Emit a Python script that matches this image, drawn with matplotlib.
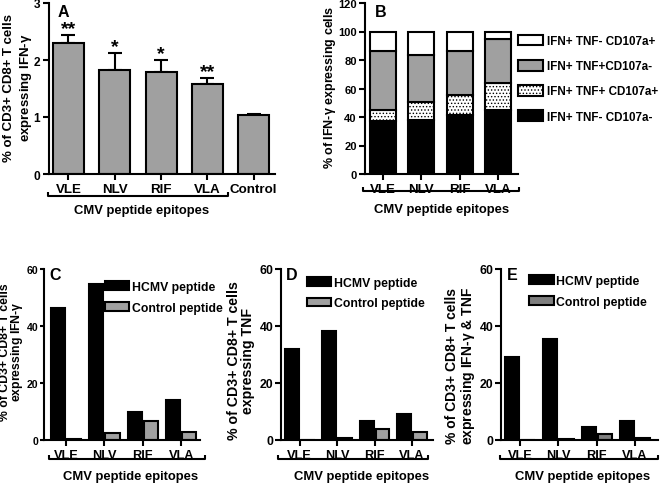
import matplotlib
matplotlib.use("Agg")
import matplotlib.pyplot as plt
import numpy as np
from matplotlib.patches import Patch
import matplotlib.transforms as mtransforms

plt.rcParams['font.family'] = ['Liberation Sans', 'DejaVu Sans']
plt.rcParams['font.weight'] = 'bold'
plt.rcParams['axes.labelweight'] = 'bold'
plt.rcParams['hatch.linewidth'] = 0.6
plt.rcParams['mathtext.default'] = 'regular'

# ---------------- data ----------------
a_cats = ["VLE", "NLV", "RIF", "VLA", "Control"]
a_vals = [2.30, 1.83, 1.79, 1.58, 1.03]
a_errs = [0.14, 0.30, 0.21, 0.10, 0.02]
a_stars = ["**", "*", "*", "**", ""]

b_cats = ["VLE", "NLV", "RIF", "VLA"]
b_tnfneg_cdneg = [37.5, 38.2, 41.7, 44.7]
b_tnfpos_cdpos = [7.7, 12.2, 14.0, 19.2]
b_tnfpos_cdneg = [41.0, 33.4, 30.5, 30.5]
b_tnfneg_cdpos = [13.8, 16.2, 13.8, 5.6]

cde_cats = ["VLE", "NLV", "RIF", "VLA"]
c_hcmv = [46.4, 54.7, 9.7, 14.0]
c_ctrl = [0.35, 2.6, 6.8, 2.9]
d_hcmv = [31.9, 38.1, 6.6, 9.0]
d_ctrl = [0.0, 0.7, 3.9, 2.9]
e_hcmv = [29.0, 35.6, 4.4, 6.5]
e_ctrl = [0.0, 0.5, 2.1, 0.8]

W, H = 661, 485
fig = plt.figure(figsize=(W / 100, H / 100), dpi=100)

def ax_px(l, r, t, b):
    return fig.add_axes([l / W, (H - b) / H, (r - l) / W, (b - t) / H])

def fig_label(x, y, s, fs, ls=1.2):
    fig.text(x / W, 1 - y / H, s, rotation=90, ha="center", va="center",
             fontsize=fs, fontweight="bold", linespacing=ls, multialignment="center")

LW = 1.5

def style(ax, xfs, yfs, ylen=4.5, ypad=2):
    for s in ["top", "right"]:
        ax.spines[s].set_visible(False)
    for s in ["left", "bottom"]:
        ax.spines[s].set_linewidth(LW)
    ax.tick_params(axis="x", direction="out", length=4.5, width=LW, labelsize=xfs, pad=2)
    ax.tick_params(axis="y", direction="out", length=ylen, width=LW, labelsize=yfs, pad=ypad)
    for lab in ax.get_xticklabels() + ax.get_yticklabels():
        lab.set_fontweight("bold")

def bracket(ax, x0, x1, y, ty, tx):
    tr = mtransforms.blended_transform_factory(ax.transData, ax.transAxes)
    h = 0.025
    ax.plot([x0, x0, x1, x1], [y + h, y, y, y + h], transform=tr, color="black",
            lw=LW, clip_on=False, solid_capstyle="butt")
    ax.text(tx, ty, "CMV peptide epitopes", transform=tr, ha="center", va="center",
            fontsize=9.4, fontweight="bold")

# ---------------- A ----------------
axA = ax_px(49, 275, 4, 175)
xa = np.arange(len(a_cats))
axA.bar(xa, a_vals, width=0.67, color="#a0a0a0", edgecolor="black", linewidth=LW, zorder=2)
axA.errorbar(xa, a_vals, yerr=[np.zeros(len(a_vals)), a_errs], fmt="none",
             ecolor="black", elinewidth=LW, capsize=5, capthick=LW, zorder=1)
for i, s in enumerate(a_stars):
    if s:
        axA.text(xa[i], a_vals[i] + a_errs[i] - 0.04, s, ha="center", va="bottom",
                 fontsize=14, fontweight="bold")
axA.set_xlim(-0.42, 4.46)
axA.set_ylim(0, 3)
axA.set_yticks([0, 1, 2, 3])
axA.set_xticks(xa)
axA.set_xticklabels(a_cats)
style(axA, 9.6, 8.6)
fig_label(18.5, 88, "% of CD3+ CD8+ T cells\nexpressing IFN-$\\gamma$", 9.5)
axA.text(0.04, 0.95, "A", transform=axA.transAxes, fontsize=11.5, fontweight="bold", va="center")
bracket(axA, -0.44, 3.45, -0.128, -0.21, 1.58)

# ---------------- B ----------------
axB = ax_px(365, 518, 4, 175)
xb = np.arange(len(b_cats))
bw = 0.68
bot = np.zeros(len(b_cats))
h1 = axB.bar(xb, b_tnfneg_cdneg, bw, bottom=bot, color="black", edgecolor="black", linewidth=LW)
bot += np.array(b_tnfneg_cdneg)
h2 = axB.bar(xb, b_tnfpos_cdpos, bw, bottom=bot, color="white", edgecolor="black",
             linewidth=LW, hatch=".....")
bot += np.array(b_tnfpos_cdpos)
h3 = axB.bar(xb, b_tnfpos_cdneg, bw, bottom=bot, color="#a0a0a0", edgecolor="black", linewidth=LW)
bot += np.array(b_tnfpos_cdneg)
h4 = axB.bar(xb, b_tnfneg_cdpos, bw, bottom=bot, color="white", edgecolor="black", linewidth=LW)
axB.set_xlim(-0.47, 3.52)
axB.set_ylim(0, 120)
axB.set_yticks(np.arange(0, 121, 20))
axB.set_xticks(xb)
axB.set_xticklabels(b_cats)
style(axB, 9.6, 8.0, ylen=4.5, ypad=1.5)
fig_label(330.5, 87, "% of IFN-$\\gamma$ expressing cells", 9)
axB.text(0.065, 0.95, "B", transform=axB.transAxes, fontsize=11.5, fontweight="bold", va="center")
bracket(axB, -0.52, 3.55, -0.10, -0.205, 1.53)
legB = axB.legend([h4, h3, h2, h1],
                  ["IFN+ TNF- CD107a+", "IFN+ TNF+CD107a-", "IFN+ TNF+ CD107a+", "IFN+ TNF- CD107a-"],
                  loc="upper left", bbox_to_anchor=(1.0, 0.815), frameon=False,
                  fontsize=8.4, handlelength=2.1, handleheight=1.05, labelspacing=1.1,
                  handletextpad=0.4, borderaxespad=0, borderpad=0)
for t in legB.get_texts():
    t.set_fontweight("bold")

# ---------------- C, D, E ----------------
def grouped(ax, hcmv, ctrl, ctrl_color, letter, xlim, legy, br, yfs, ylen, ypad):
    x = np.arange(len(cde_cats))
    w = 0.37
    ax.bar(x - 0.21, hcmv, w, color="black", edgecolor="black", linewidth=LW)
    ax.bar(x + 0.21, ctrl, w, color=ctrl_color, edgecolor="black", linewidth=LW)
    ax.set_xlim(*xlim)
    ax.set_ylim(0, 60)
    ax.set_yticks([0, 20, 40, 60])
    ax.set_xticks(x)
    ax.set_xticklabels(cde_cats)
    style(ax, 9.2, yfs, ylen=ylen, ypad=ypad)
    ax.text(0.035, 0.97, letter, transform=ax.transAxes, fontsize=11.5, fontweight="bold", va="center")
    hp = Patch(facecolor="black", edgecolor="black", linewidth=LW)
    cp = Patch(facecolor=ctrl_color, edgecolor="black", linewidth=LW)
    leg = ax.legend([hp, cp], ["HCMV peptide", "Control peptide"], loc="upper left",
                    bbox_to_anchor=legy, frameon=False, fontsize=8.8,
                    handlelength=2.0, handleheight=0.7, labelspacing=0.7,
                    handletextpad=0.2, borderaxespad=0, borderpad=0)
    for t in leg.get_texts():
        t.set_fontweight("bold")
    bracket(ax, br[0], br[1], -0.11, -0.21, br[2])

axC = ax_px(44, 200, 270, 441)
grouped(axC, c_hcmv, c_ctrl, "#a0a0a0", "C", (-0.57, 3.49), (0.39, 0.93), (-0.44, 3.63, 1.67),
        7.6, 3.0, 1.0)
fig_label(12.2, 352, "% of CD3+ CD8+ T cells\nexpressing IFN-$\\gamma$", 8.8, 0.86)

axD = ax_px(281, 433, 270, 441)
grouped(axD, d_hcmv, d_ctrl, "#a0a0a0", "D", (-0.5, 3.56), (0.17, 0.955), (-0.59, 3.43, 1.66),
        8.8, 4, 1.5)
fig_label(241, 361, "% of CD3+ CD8+ T cells\nexpressing TNF", 10.2, 0.95)

axE = ax_px(501, 658, 270, 441)
grouped(axE, e_hcmv, e_ctrl, "#7f7f7f", "E", (-0.5, 3.6), (0.18, 0.965), (-0.52, 3.61, 1.62),
        8.8, 4, 1.5)
fig_label(461, 366, "% of CD3+ CD8+ T cells\nexpressing IFN-$\\gamma$ & TNF", 10, 0.95)

fig.savefig("out.png", dpi=100)
